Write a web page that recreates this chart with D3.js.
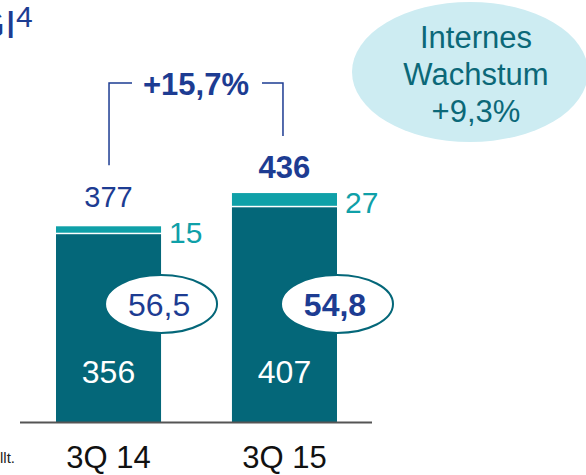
<html>
<head>
<script src="https://cdn.jsdelivr.net/npm/d3@7"></script>
</head>
<body style="margin:0;background:#fff">
<svg width="586" height="475" id="chart"></svg>
<script>
// chart data
var quarters = ["3Q 14", "3Q 15"];
var baseValues = [356, 407];
var topValues = [15, 27];
var totalLabels = ["377", "436"];
var marginLabels = ["56,5", "54,8"];
var growthLabel = "+15,7%";
var internalLines = ["Internes", "Wachstum", "+9,3%"];

var blue = "#1d3c92",
    dark = "#046779",
    teal = "#0fa0a8";

var svg = d3.select("#chart");
var font = "'Liberation Sans', Arial, sans-serif";

var x = d3.scaleBand()
  .domain(quarters)
  .range([56, 337])
  .paddingInner(0.403)
  .paddingOuter(0);

var y = d3.scaleLinear()
  .domain([0, 800])
  .range([422, 0]);

var bw = x.bandwidth();

// title fragment (cut at left edge like the slide)
svg.append("text")
  .attr("x", 16).attr("y", 38)
  .attr("text-anchor", "end")
  .style("font-family", font)
  .style("font-size", "39px")
  .style("fill", blue)
  .text("GI");
svg.append("text")
  .attr("x", 16).attr("y", 27)
  .style("font-family", font)
  .style("font-size", "30px")
  .style("fill", blue)
  .text("4");

// footnote fragment
svg.append("text")
  .attr("x", 0).attr("y", 463)
  .style("font-family", font)
  .style("font-size", "15px")
  .style("fill", "#222")
  .text("llt.");

// internal growth bubble
svg.append("ellipse")
  .attr("cx", 470).attr("cy", 72)
  .attr("rx", 118).attr("ry", 70)
  .style("fill", "#cdecf2");
svg.selectAll(".internal")
  .data(internalLines)
  .enter().append("text")
  .attr("class", "internal")
  .attr("x", 476)
  .attr("y", function(d, i) { return 48 + i * 37; })
  .attr("text-anchor", "middle")
  .style("font-family", font)
  .style("font-size", "31px")
  .style("fill", "#0b6878")
  .text(function(d) { return d; });

// bars
var g = svg.append("g");
g.selectAll(".base")
  .data(baseValues)
  .enter().append("rect")
  .attr("x", function(d, i) { return x(quarters[i]); })
  .attr("y", function(d) { return y(d); })
  .attr("width", bw)
  .attr("height", function(d) { return y(0) - y(d); })
  .style("fill", dark);

g.selectAll(".top")
  .data(topValues)
  .enter().append("rect")
  .attr("x", function(d, i) { return x(quarters[i]); })
  .attr("y", function(d, i) { return y(baseValues[i] + d); })
  .attr("width", bw)
  .attr("height", function(d, i) { return y(baseValues[i]) - y(baseValues[i] + d) - 1.5; })
  .style("fill", teal);

// baseline
svg.append("line")
  .attr("x1", 20).attr("x2", 372)
  .attr("y1", y(0) + 0.5).attr("y2", y(0) + 0.5)
  .style("stroke", "#555")
  .style("stroke-width", 2);

// base values inside bars
g.selectAll(".baseLabel")
  .data(baseValues)
  .enter().append("text")
  .attr("x", function(d, i) { return x(quarters[i]) + bw / 2; })
  .attr("y", y(0) - 39)
  .attr("text-anchor", "middle")
  .style("font-family", font)
  .style("font-size", "32px")
  .style("fill", "#fff")
  .text(function(d) { return d; });

// top segment values
g.selectAll(".topLabel")
  .data(topValues)
  .enter().append("text")
  .attr("x", function(d, i) { return x(quarters[i]) + bw + 8; })
  .attr("y", function(d, i) { return (y(baseValues[i] + d) + y(baseValues[i])) / 2 + 12.5; })
  .style("font-family", font)
  .style("font-size", "30px")
  .style("fill", teal)
  .text(function(d) { return d; });

// totals
function totalY(i) { return y(baseValues[i] + topValues[i]) - 17; }
g.selectAll(".totalLabel")
  .data(totalLabels)
  .enter().append("text")
  .attr("x", function(d, i) { return x(quarters[i]) + bw / 2; })
  .attr("y", function(d, i) { return totalY(i) + (i == 1 ? 2 : -2); })
  .attr("text-anchor", "middle")
  .style("font-family", font)
  .style("font-size", function(d, i) { return i == 1 ? "31px" : "29px"; })
  .style("font-weight", function(d, i) { return i == 1 ? "bold" : "normal"; })
  .style("fill", blue)
  .text(function(d) { return d; });

// growth bracket
var cx0 = x(quarters[0]) + bw / 2 + 0.5,
    cx1 = x(quarters[1]) + bw / 2 - 1.5,
    bracketY = 83;
svg.append("path")
  .attr("d", "M" + cx0 + "," + (totalY(0) - 44) + "V" + bracketY + "H" + (cx0 + 23))
  .style("fill", "none").style("stroke", blue).style("stroke-width", 1.5);
svg.append("path")
  .attr("d", "M" + (cx1 - 21) + "," + bracketY + "H" + cx1 + "V" + (totalY(1) - 40))
  .style("fill", "none").style("stroke", blue).style("stroke-width", 1.5);
svg.append("text")
  .attr("x", (cx0 + cx1) / 2)
  .attr("y", 95)
  .attr("text-anchor", "middle")
  .style("font-family", font)
  .style("font-size", "31px")
  .style("font-weight", "bold")
  .style("fill", blue)
  .text(growthLabel);

// margin ellipses
var ell = svg.selectAll(".margin")
  .data(marginLabels)
  .enter().append("g")
  .attr("transform", function(d, i) { return "translate(" + (x(quarters[i]) + bw) + ",304)"; });
ell.append("ellipse")
  .attr("rx", 56).attr("ry", 29)
  .style("fill", "#fff")
  .style("stroke", dark)
  .style("stroke-width", 2);
ell.append("text")
  .attr("x", -2).attr("y", 12)
  .attr("text-anchor", "middle")
  .style("font-family", font)
  .style("font-size", "32px")
  .style("font-weight", function(d, i) { return i == 1 ? "bold" : "normal"; })
  .style("fill", blue)
  .text(function(d) { return d; });

// category labels
svg.selectAll(".cat")
  .data(quarters)
  .enter().append("text")
  .attr("x", function(d) { return x(d) + bw / 2; })
  .attr("y", 468)
  .attr("text-anchor", "middle")
  .style("font-family", font)
  .style("font-size", "31px")
  .style("fill", "#111")
  .text(function(d) { return d; });
</script>
</body>
</html>
